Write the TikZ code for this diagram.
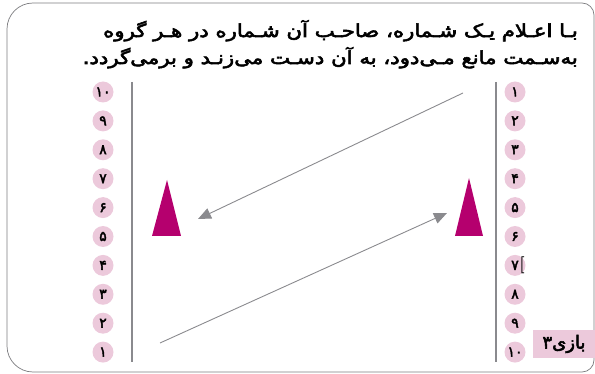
\documentclass[tikz,border=0pt]{standalone}
\usepackage{fontspec}
\TeXXeTstate=1
\newfontfamily\farsi[Script=Arabic, FakeBold=3]{DejaVu Sans}
\usetikzlibrary{arrows.meta, positioning, calc}

\definecolor{pinkdot}{RGB}{236,201,219}
\definecolor{magtri}{RGB}{181,0,110}
\definecolor{linegray}{RGB}{138,138,142}
\definecolor{framegray}{RGB}{125,125,128}

\newcommand{\widetitle}[1]{\scalebox{1.18}[1]{\beginR #1\endR}}

\tikzset{
  numdot/.style={circle, fill=pinkdot, minimum size=21pt, inner sep=0pt,
    font=\farsi\fontsize{14}{14}\selectfont},
  runline/.style={linegray, line width=0.9pt, -{Triangle[length=13pt, width=11pt]}},
  wall/.style={linegray, line width=2.2pt},
  cone/.style={fill=magtri},
  titletext/.style={anchor=base east, inner sep=0pt,
    font=\farsi\fontsize{18}{18}\selectfont}
}

\begin{document}
\begin{tikzpicture}[x=1pt, y=-1pt]
\useasboundingbox (0,0) rectangle (595,374);

% قاب
\draw[framegray, line width=0.7pt] (7,200) [rounded corners=26pt] -- (7,3)
    [rounded corners=12pt] -- (594,3) -- (594,372)
    [rounded corners=26pt] -- (7,372) -- cycle;

% عنوان
\node[titletext] (title1) at (578,37) {\widetitle{بـا اعـلام یـک شـماره، صاحـب آن شـماره در هـر گروه}};
\node[titletext] (title2) at (578,64) {\widetitle{به‌سـمت مانع مـی‌دود، به آن دسـت می‌زنـد و برمی‌گردد.}};

% دیوارها
\draw[wall] (132,82) -- (132,362);
\draw[wall] (496,82) -- (496,362);

% شماره‌ها
\foreach \k/\d in {1/۱, 2/۲, 3/۳, 4/۴, 5/۵, 6/۶, 7/۷, 8/۸, 9/۹, 10/۱۰} {
    \node[numdot] (l\k) at (103, {92+(10-\k)*28.9}) {\d};
    \node[numdot] (r\k) at (515, {92+(\k-1)*28.9}) {\d};
}
\node[inner sep=0pt, font=\bfseries\fontsize{17}{17}\selectfont] (bracket) at ($(r7.center)+(7,0)$) {[};

% موانع
\fill[cone] (167,180) -- (181,236) -- (152,236) -- cycle;
\fill[cone] (469,178) -- (483,236) -- (455,236) -- cycle;

% مسیر دویدن
\coordinate (runA) at (463,93);
\coordinate (goalA) at (198,219);
\coordinate (runB) at (160,343);
\coordinate (goalB) at (447,213);
\draw[runline] (runA) -- (goalA);
\draw[runline] (runB) -- (goalB);

% برچسب
\node[fill=pinkdot, minimum width=62pt, minimum height=28pt, inner sep=0pt,
      font=\farsi\fontsize{18}{18}\selectfont] (game) at (564,344) {\beginR بازی۳\endR};

\end{tikzpicture}
\end{document}
